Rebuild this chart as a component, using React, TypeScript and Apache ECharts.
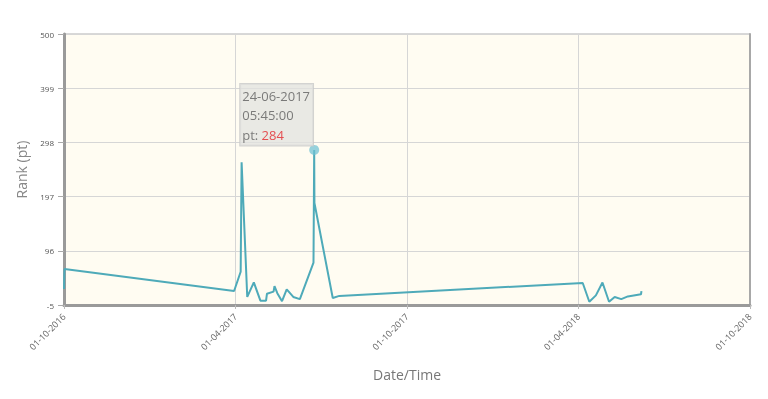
import React, { useEffect, useRef } from 'react';
import * as echarts from 'echarts';

// Axis range and tick labels
const axisStart = '2016-10-01 00:00:00';
const axisEnd = '2018-10-01 00:00:00';
const xTickLabels = ['01-10-2016', '01-04-2017', '01-10-2017', '01-04-2018', '01-10-2018'];
const yMin = -5;
const yMax = 500;
const yStep = 101;

// Series: date/time of each reading and the rank (pt)
const times = [
  '2016-10-01 00:00:00',
  '2016-10-01 12:00:00',
  '2017-03-31 00:00:00',
  '2017-04-07 00:00:00',
  '2017-04-08 00:00:00',
  '2017-04-14 00:00:00',
  '2017-04-21 00:00:00',
  '2017-04-28 00:00:00',
  '2017-05-04 00:00:00',
  '2017-05-05 00:00:00',
  '2017-05-12 00:00:00',
  '2017-05-13 00:00:00',
  '2017-05-16 00:00:00',
  '2017-05-21 00:00:00',
  '2017-05-26 00:00:00',
  '2017-06-02 00:00:00',
  '2017-06-09 00:00:00',
  '2017-06-23 12:00:00',
  '2017-06-24 05:45:00',
  '2017-06-24 12:00:00',
  '2017-07-14 00:00:00',
  '2017-07-21 00:00:00',
  '2018-04-06 00:00:00',
  '2018-04-13 00:00:00',
  '2018-04-20 00:00:00',
  '2018-04-27 00:00:00',
  '2018-05-04 00:00:00',
  '2018-05-10 00:00:00',
  '2018-05-17 00:00:00',
  '2018-05-24 00:00:00',
  '2018-06-07 00:00:00',
  '2018-06-07 12:00:00',
];
const ranks = [25, 62, 21, 57, 261, 10, 37, 3, 3, 16, 20, 30, 17, 2, 24, 10, 6, 74, 284, 185, 8, 12, 36, 1, 13, 37, 1, 10, 6, 11, 15, 21];
const highlightIndex = 18;

const DAY = 86400000;
const parseUTC = (s: string) => {
  const [d, t] = s.split(' ');
  return Date.parse(`${d}T${t}Z`);
};
const t0 = parseUTC(axisStart);
const toDays = (s: string) => (parseUTC(s) - t0) / DAY;
const xMax = toDays(axisEnd);
const xStep = xMax / (xTickLabels.length - 1);

const fmtTip = (s: string, v: number) => {
  const [d, t] = s.split(' ');
  const [y, m, dd] = d.split('-');
  return `{t|${dd}-${m}-${y}}\n{t|${t}}\n{t|pt: }{r|${v}}`;
};

const FONT = '"Open Sans", "DejaVu Sans", sans-serif';

export default function App() {
  const ref = useRef<HTMLDivElement>(null);
  useEffect(() => {
    if (!ref.current) return;
    const chart = echarts.init(ref.current, undefined, { renderer: 'svg' });
    const lineData = times.map((t, i) => [toDays(t), ranks[i]]);
    chart.setOption({
      animation: false,
      grid: {
        left: 64,
        right: 18,
        top: 34,
        bottom: 94,
        show: true,
        backgroundColor: '#fffcf2',
        borderColor: '#b0b0b0',
        borderWidth: 1,
      },
      xAxis: {
        type: 'value',
        min: 0,
        max: xMax,
        interval: xStep,
        name: 'Date/Time',
        nameLocation: 'middle',
        nameGap: 62,
        nameTextStyle: { color: '#777', fontSize: 14, fontFamily: FONT },
        axisLine: { show: true, onZero: false, lineStyle: { color: '#9a9a9a', width: 3 } },
        axisTick: { show: true, length: 4, lineStyle: { color: '#bbb' } },
        axisLabel: {
          rotate: 45,
          fontSize: 9,
          color: '#666',
          margin: 10,
          fontFamily: FONT,
          formatter: (_v: number, i: number) => xTickLabels[i] ?? '',
        },
        splitLine: { show: true, lineStyle: { color: '#d6d6d6', width: 1 } },
      },
      yAxis: [
        {
          type: 'value',
          min: yMin,
          max: yMax,
          interval: yStep,
          name: 'Rank (pt)',
          nameLocation: 'middle',
          nameGap: 36,
          nameTextStyle: { color: '#888', fontSize: 14, fontFamily: FONT },
          axisLine: { show: true, onZero: false, lineStyle: { color: '#9a9a9a', width: 3 } },
          axisTick: { show: true, length: 6, lineStyle: { color: '#aaa' } },
          axisLabel: { fontSize: 8, color: '#555', margin: 10, fontFamily: FONT },
          splitLine: { show: true, lineStyle: { color: '#d6d6d6', width: 1 } },
        },
        {
          type: 'value',
          position: 'right',
          min: yMin,
          max: yMax,
          interval: yStep,
          axisLine: { show: true, onZero: false, lineStyle: { color: '#a8a8a8', width: 2 } },
          axisTick: { show: false },
          axisLabel: { show: false },
          splitLine: { show: false },
        },
      ],
      series: [
        {
          type: 'line',
          data: lineData,
          showSymbol: false,
          symbol: 'none',
          lineStyle: { color: '#4eaab9', width: 2 },
          z: 3,
        },
        {
          type: 'scatter',
          data: [lineData[highlightIndex]],
          symbolSize: 10,
          itemStyle: { color: 'rgba(110,192,210,0.9)' },
          z: 5,
          label: {
            show: true,
            position: [-69, -61],
            align: 'left',
            verticalAlign: 'top',
            backgroundColor: 'rgba(226,226,224,0.95)',
            borderColor: '#c8c8c8',
            borderWidth: 1,
            padding: [2, 3, 1, 2],
            formatter: () => fmtTip(times[highlightIndex], ranks[highlightIndex]),
            rich: {
              t: { color: '#5e5e5e', fontSize: 13, lineHeight: 19.5, fontFamily: FONT },
              r: { color: '#e3262a', fontSize: 13, lineHeight: 19.5, fontFamily: FONT },
            },
          },
        },
      ],
    });
    return () => chart.dispose();
  }, []);
  return (
    <div
      ref={ref}
      style={{ position: 'fixed', left: 0, top: 0, width: 768, height: 399 }}
    />
  );
}
